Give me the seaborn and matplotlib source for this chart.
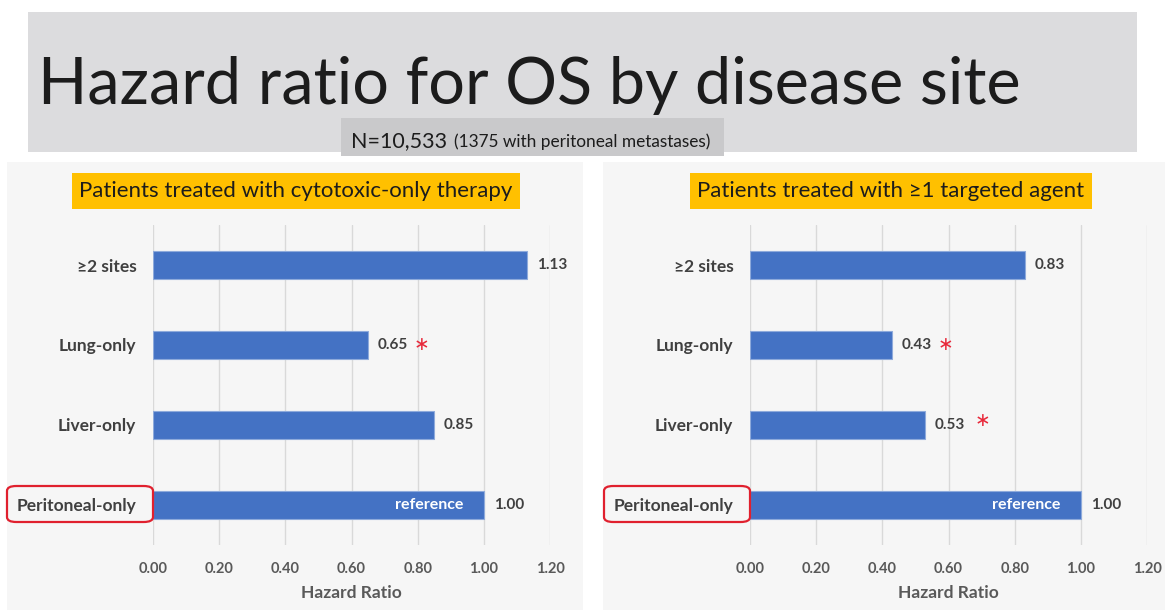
import numpy as np
import pandas as pd
import matplotlib.pyplot as plt
from matplotlib.patches import Rectangle, FancyBboxPatch
import seaborn as sns

# data
sites = ['≥2 sites', 'Lung-only', 'Liver-only', 'Peritoneal-only']
hr_cytotoxic = [1.13, 0.65, 0.85, 1.00]
hr_targeted = [0.83, 0.43, 0.53, 1.00]
sig_cytotoxic = [False, True, False, False]
sig_targeted = [False, True, True, False]
panel_titles = ['Patients treated with cytotoxic-only therapy',
                'Patients treated with ≥1 targeted agent']
xticks = [0.0, 0.2, 0.4, 0.6, 0.8, 1.0, 1.2]

sns.set_style("white")
plt.rcParams['font.family'] = ['Lato', 'DejaVu Sans']

W, H = 1165, 613
fig = plt.figure(figsize=(W / 100, H / 100), dpi=100)


def fx(px):
    return px / W


def fy(py):
    return 1 - py / H


def frect(x0, y0, x1, y1, **kw):
    r = Rectangle((fx(x0), fy(y1)), fx(x1) - fx(x0), fy(y0) - fy(y1),
                  transform=fig.transFigure, **kw)
    fig.patches.append(r)
    return r


# header boxes
frect(28, 12, 1137, 152, facecolor='#dcdcde', edgecolor='none', zorder=-2)
frect(341, 118, 724, 156, facecolor='#c9c9cb', edgecolor='none', zorder=-1)
fig.text(fx(38), fy(104), 'Hazard ratio for OS by disease site', fontsize=46.6,
         color='#1c1c1c', va='baseline', ha='left')
t1 = fig.text(fx(351), fy(147), 'N=10,533', fontsize=15.5, color='#1c1c1c',
              va='baseline', ha='left')

# panel backgrounds
frect(7, 162, 583, 610, facecolor='#f6f6f6', edgecolor='none', zorder=-2)
frect(603, 162, 1165, 610, facecolor='#f6f6f6', edgecolor='none', zorder=-2)

panels = [
    (153, hr_cytotoxic, sig_cytotoxic, panel_titles[0], 296),
    (750, hr_targeted, sig_targeted, panel_titles[1], 891),
]

for x0, vals, sig, title, tcx in panels:
    ax = fig.add_axes([fx(x0), fy(545), 397 / W, 320 / H])
    ax.patch.set_alpha(0)
    df = pd.DataFrame({'site': sites, 'hr': vals})
    sns.barplot(data=df, x='hr', y='site', orient='h', ax=ax, color='#4472C4',
                saturation=1, width=0.35, edgecolor='#8eaadb', linewidth=0.8)
    ax.set_xlim(0, 1.2)
    ax.set_ylim(3.5, -0.5)
    ax.set_xticks(xticks)
    ax.set_xticklabels([f'{t:.2f}' for t in xticks])
    ax.grid(axis='x', color='#d9d9d9', linewidth=1)
    ax.set_axisbelow(True)
    sns.despine(ax=ax, left=True, bottom=True)
    ax.tick_params(axis='x', length=0, pad=12, labelsize=10.5, labelcolor='#595959')
    ax.tick_params(axis='y', length=0, pad=12, labelsize=12.5, labelcolor='#404040')
    for lab in ax.get_xticklabels() + ax.get_yticklabels():
        lab.set_fontweight('bold')
    ax.set_ylabel('')
    ax.set_xlabel('Hazard Ratio', fontsize=12.5, fontweight='bold',
                  color='#595959', labelpad=7)

    for i, (v, s) in enumerate(zip(vals, sig)):
        t = ax.annotate(f'{v:.2f}', xy=(v, i), xytext=(7, 0),
                        textcoords='offset points', va='center', ha='left',
                        fontsize=11, fontweight='bold', color='#404040')
        if s:
            ax.annotate('∗', xy=(1, 0.5), xycoords=t,
                        xytext=(4 if i == 1 else 7, 0 if i == 1 else 3.5),
                        textcoords='offset points', va='center', ha='left',
                        fontsize=13.5, color='#e8283a', family='DejaVu Sans')
    ax.annotate('reference', xy=(vals[3], 3), xytext=(-15, 0),
                textcoords='offset points', va='center', ha='right',
                fontsize=11.5, fontweight='bold', color='white')

    fig.text(fx(tcx), fy(191), title, fontsize=16, color='#1c1c1c',
             ha='center', va='center',
             bbox=dict(facecolor='#FFC000', edgecolor='none', pad=5.5))

    # red rounded box around reference category
    box = FancyBboxPatch((fx(x0 - 146), fy(522)), 146 / W, 36 / H,
                         boxstyle='round,pad=0,rounding_size=0.008',
                         transform=fig.transFigure, facecolor='none',
                         edgecolor='#e0202e', linewidth=1.6, zorder=5)
    fig.patches.append(box)

# smaller part of the subtitle, placed after the N count
fig.canvas.draw()
bb = t1.get_window_extent()
fig.text(fx(bb.x1 + 7), t1.get_position()[1], '(1375 with peritoneal metastases)',
         fontsize=12.4, color='#1c1c1c', va='baseline', ha='left')

fig.savefig('out.png', dpi=100)
